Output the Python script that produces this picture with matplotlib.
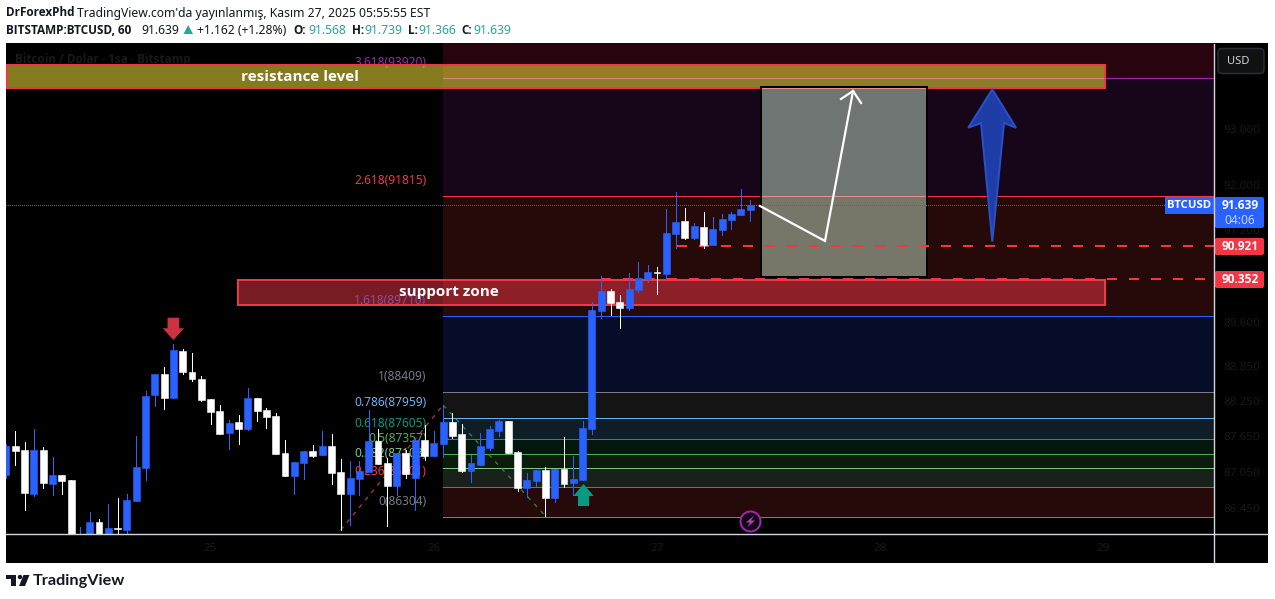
import matplotlib
matplotlib.use("Agg")
import matplotlib.pyplot as plt
from matplotlib.patches import Rectangle, Polygon, Circle, FancyBboxPatch
from matplotlib.ticker import FixedLocator, FixedFormatter, NullLocator

# candles, one per hour (below 86014 is off the chart, so estimated)
opens = [86998, 87486, 87418, 86680, 87418, 86847, 86998, 86914, 85700, 85850,
         86213, 85900, 86114, 86080, 86563, 87115, 88350, 88709, 88299, 89103,
         88743, 88623, 88282, 88078, 87705, 87891, 87773, 88299, 88095, 87993,
         87368, 86981, 87199, 87401, 87334, 87486, 87049, 86680, 86931, 87049,
         87570, 87199, 86814, 87368, 86948, 87587, 87317, 87520, 87891, 87688,
         87065, 87166, 87452, 87739, 87908, 87385, 86780, 86897, 87082, 86613,
         87098, 86864, 86914, 87773, 89794, 90140, 89949, 89846, 90158, 90349,
         90472, 90436, 91137, 91366, 91067, 91260, 90944, 91208, 91383, 91471,
         91568]
highs = [87520, 87739, 87553, 87773, 87469, 87300, 86998, 86914, 86130, 86379,
         86263, 86513, 86613, 86680, 87655, 88419, 88709, 88829, 89224, 89138,
         89069, 88675, 88282, 88180, 87925, 88010, 88470, 88299, 88129, 88044,
         87587, 87216, 87401, 87503, 87739, 87688, 87267, 87233, 87233, 88095,
         87773, 87283, 87368, 87418, 87600, 87841, 87739, 88180, 88044, 87858,
         87334, 87705, 87824, 87925, 87908, 87401, 87031, 87082, 87132, 87098,
         87638, 87317, 87908, 89949, 90402, 90175, 90071, 90454, 90646, 90594,
         90559, 91577, 91878, 91595, 91330, 91524, 91436, 91489, 91524, 91931,
         91739]
lows = [86950, 87166, 86413, 86646, 86780, 86663, 86680, 85800, 85650, 85800,
        85800, 85850, 85900, 85980, 86563, 86914, 88163, 88112, 88299, 88709,
        88589, 88248, 87858, 87688, 87435, 87520, 87756, 87908, 87790, 87351,
        86981, 86680, 86931, 87300, 87334, 86847, 86080, 86163, 86663, 87049,
        87183, 86147, 86663, 86948, 86413, 87250, 87317, 87300, 87621, 87049,
        86880, 87166, 87418, 87655, 87368, 86730, 86629, 86814, 86313, 86546,
        86797, 86663, 86914, 87688, 89672, 89724, 89500, 89811, 90123, 90297,
        90088, 90349, 90891, 91049, 91049, 90891, 90944, 91119, 91225, 91471,
        91366]
closes = [87486, 87401, 86696, 87418, 86864, 86998, 86897, 85800, 85900, 86213,
          85850, 86114, 86097, 86579, 87132, 88333, 88709, 88299, 89121, 88743,
          88623, 88265, 88061, 87688, 87875, 87773, 88299, 88078, 87976, 87351,
          86981, 87216, 87401, 87317, 87486, 87031, 86680, 86948, 87065, 87570,
          87183, 86814, 87368, 87015, 87587, 87317, 87536, 87891, 87655, 87065,
          87199, 87486, 87773, 87908, 87368, 86780, 86914, 87082, 86613, 87098,
          86847, 86931, 87790, 89811, 90140, 89932, 89846, 90175, 90367, 90472,
          90454, 91155, 91348, 91067, 91278, 90944, 91225, 91400, 91489, 91577,
          91639]

# fibonacci
fib_start = 47
fib_levels = ["3.618", "2.618", "1.618", "1", "0.786", "0.618", "0.5", "0.382", "0.236", "0"]
fib_prices = [93920, 91815, 89710, 88409, 87959, 87605, 87357, 87108, 86801, 86304]
fib_colors = ["#9C27B0", "#F23645", "#2962FF", "#787B86", "#64B5F6",
              "#089981", "#4CAF50", "#81C784", "#F23645", "#787B86"]
fib_fills = ["#170519", "#260909", "#060D28", "#141414", "#0F1D26",
             "#03170F", "#0D1B0D", "#18211A", "#260909"]
fib_top_fill = "#28040F"

# axis
price_ticks = [93000, 92000, 91200, 89600, 88850, 88250, 87650, 87050, 86450]
price_labels = ["93.000", "92.000", "91.200", "89.600", "88.850", "88.250", "87.650", "87.050", "86.450"]
day_ticks = [22, 46, 70, 94, 118]
day_labels = ["25", "26", "27", "28", "29"]
y_bottom, y_top = 86014, 94556
x_right = 129.89

last_price = 91639
stop_a, stop_b = 90921, 90352

BLUE = "#2962FF"
RED = "#F23645"
DARK = "#191919"
PX = 0.72  # one pixel in points at dpi 100
BOLD = "Open Sans"

plt.rcParams["font.family"] = ["Noto Sans", "DejaVu Sans"]

fig = plt.figure(figsize=(12.75, 5.99), dpi=100, facecolor="white")
fig.add_artist(Rectangle((6 / 1275, 36 / 599), 1262 / 1275, 520 / 599, transform=fig.transFigure,
                         facecolor="black", edgecolor="none", zorder=-1))

ax = fig.add_axes([6 / 1275, 65 / 599, 1208 / 1275, 491 / 599])
ax.set_facecolor("black")
ax.set_yscale("log")
ax.set_xlim(0, x_right)
ax.set_ylim(y_bottom, y_top)
for s in ax.spines.values():
    s.set_visible(False)
ax.yaxis.tick_right()
ax.yaxis.set_major_locator(FixedLocator(price_ticks))
ax.yaxis.set_major_formatter(FixedFormatter(price_labels))
ax.yaxis.set_minor_locator(NullLocator())
ax.set_xticks(day_ticks)
ax.set_xticklabels(day_labels)
ax.tick_params(axis="both", length=0, labelcolor=DARK, labelsize=8.4)
ax.tick_params(axis="y", pad=6.5)
ax.tick_params(axis="x", pad=6.5)

# bands and levels of the fib
edges = [y_top] + fib_prices
for i, col in enumerate([fib_top_fill] + fib_fills):
    ax.fill_between([fib_start, x_right], edges[i + 1], edges[i], color=col, linewidth=0, zorder=0)
for lev, p, col in zip(fib_levels, fib_prices, fib_colors):
    ax.plot([fib_start, x_right], [p, p], color=col, lw=PX, zorder=1)
    ax.annotate(f"{lev}({p})", (fib_start, p), xytext=(-12, 11), textcoords="offset points",
                color=col, fontsize=8.6, ha="right", va="center", zorder=2)

# the two diagonals of the fib
ax.plot([36, 47], [lows[36], highs[47]], color="#C9323F", lw=PX * 1.2, ls=(0, (3.5, 4.5)), zorder=2)
ax.plot([47, 58], [highs[47], lows[58]], color="#2E8B46", lw=PX * 1.2, ls=(0, (3.5, 4.5)), zorder=2)

ax.text(0.0075, 0.967, "Bitcoin / Dolar · 1sa · Bitstamp", transform=ax.transAxes, color=DARK,
        fontsize=8.5, family=BOLD, fontweight="bold", va="center", zorder=2)

# zones
ax.add_patch(Rectangle((0.1, 93739), 118.1, 94156 - 93739, facecolor=(1, 0.92, 0.23, 0.52),
                       edgecolor=RED, lw=PX * 2, zorder=3))
ax.add_patch(Rectangle((24.95, 89897), 93.25, 90332 - 89897, facecolor=(0.95, 0.21, 0.27, 0.5),
                       edgecolor=RED, lw=PX * 2, zorder=3))
ax.text(31.6, 93947, "resistance level", color="white", fontsize=11, family=BOLD, fontweight="bold",
        ha="center", va="center", zorder=7)
ax.text(47.6, 90115, "support zone", color="white", fontsize=11, family=BOLD, fontweight="bold",
        ha="center", va="center", zorder=7)

# projection box
ax.add_patch(Rectangle((81.18, 90384), 99.03 - 81.18, 93758 - 90384, facecolor=(0.86, 1, 0.88, 0.45),
                       edgecolor="black", lw=PX * 2, zorder=5))

# stop lines and last price
ax.plot([72.1, x_right], [stop_a, stop_a], color=RED, lw=PX * 2, ls=(0, (5, 6)), zorder=5.1)
ax.plot([64, x_right], [stop_b, stop_b], color=RED, lw=PX * 2, ls=(0, (5, 6)), zorder=5.1)
ax.plot([0, x_right], [last_price, last_price], color=BLUE, lw=PX, ls=(0, (1, 2)), zorder=5.1,
        antialiased=False)

# candles
for i, (o, h, l, c) in enumerate(zip(opens, highs, lows, closes)):
    col = BLUE if c >= o else "white"
    ax.vlines(i, l, h, color=col, lw=PX, zorder=5.2, antialiased=False)
    ax.bar(i, abs(c - o), bottom=min(o, c), width=0.75, color=col, linewidth=0.4, edgecolor=col, zorder=5.2)

# arrows
ax.plot([81.08, 88.06, 91.08], [91630, 91014, 93685], color="white", lw=PX * 2.2, zorder=6,
        solid_joinstyle="miter")
ax.plot([89.78, 91.08, 91.94], [93541, 93685, 93469], color="white", lw=PX * 2.2, zorder=6,
        solid_joinstyle="miter")
ax.add_patch(Polygon([(106.05, 93716), (103.47, 93024), (104.84, 93108), (106.05, 91001),
                      (107.31, 93108), (108.6, 93024)], closed=True, facecolor="#1F3DA6",
                     edgecolor="#2850C8", lw=PX * 2, zorder=6))
ax.add_patch(Polygon([(17.37, 89677), (18.63, 89677), (18.63, 89495), (19.15, 89495), (18, 89293),
                      (16.85, 89495), (17.37, 89495)], closed=True, facecolor="#CC3340",
                     edgecolor="none", zorder=6))
ax.add_patch(Polygon([(61.5, 86479), (62.7, 86479), (62.7, 86646), (63.2, 86646), (62.1, 86847),
                      (61, 86646), (61.5, 86646)], closed=True, facecolor="#089981",
                     edgecolor="none", zorder=6))

# everything around the chart, in picture pixels
top = fig.add_axes([0, 0, 1, 1], facecolor="none")
top.set_xlim(0, 1275)
top.set_ylim(599, 0)
top.axis("off")

top.plot([6, 1268], [534, 534], color="#D1D4DC", lw=PX * 1.4)
top.plot([1214, 1214], [44, 563], color="#D1D4DC", lw=PX * 1.4)

# lightning badge
top.add_patch(Circle((750.5, 521.5), 10, facecolor="#12050F", edgecolor="#9C27B0", lw=PX * 2))
top.add_patch(Polygon([(754, 515.5), (746, 522.5), (750, 522.5), (747, 527.5), (755, 520.5), (751, 520.5)],
                      closed=True, facecolor="#AB47BC", edgecolor="none"))

# right side tags
top.add_patch(Rectangle((1165, 197), 49, 17, facecolor=BLUE, edgecolor="none"))
top.text(1189.5, 205.5, "BTCUSD", color="white", fontsize=8.2, family=BOLD, fontweight="bold", ha="center", va="center")
top.add_patch(FancyBboxPatch((1215, 197), 49, 31, boxstyle="round,pad=0,rounding_size=2", facecolor=BLUE, edgecolor="none"))
top.text(1240, 205.5, "91.639", color="white", fontsize=8.6, family=BOLD, fontweight="bold", ha="center", va="center")
top.text(1240, 220, "04:06", color="#C4D4FF", fontsize=8.6, ha="center", va="center")
for y, s in [(246.5, "90.921"), (279.5, "90.352")]:
    top.add_patch(FancyBboxPatch((1215, y - 8.5), 49, 17, boxstyle="round,pad=0,rounding_size=2", facecolor=RED, edgecolor="none"))
    top.text(1240, y, s, color="white", fontsize=8.6, family=BOLD, fontweight="bold", ha="center", va="center")

top.add_patch(FancyBboxPatch((1218, 48.5), 46, 25, boxstyle="round,pad=0,rounding_size=4", facecolor="#111111",
                             edgecolor="#2A2E39", lw=PX * 1.5))
top.text(1238, 61.5, "USD", color="#D1D4DC", fontsize=8, ha="center", va="center")

# header
head = "#131722"
teal = "#26A69A"
header = [(6, 12, "DrForexPhd", "bold", head), (77, 12, "TradingView.com'da yayınlanmış, Kasım 27, 2025 05:55:55 EST", "normal", head),
          (6, 29, "BITSTAMP:BTCUSD, 60", "bold", head), (141, 29, "91.639", "normal", head),
          (197, 29, "+1.162 (+1.28%)", "normal", head), (293, 29, "O:", "bold", head), (308, 29, "91.568", "normal", teal),
          (352, 29, "H:", "bold", head), (364, 29, "91.739", "normal", teal), (408, 29, "L:", "bold", head),
          (418, 29, "91.366", "normal", teal), (461, 29, "C:", "bold", head), (473, 29, "91.639", "normal", teal)]
for x, y, s, w, col in header:
    if w == "bold":
        top.text(x, y + 1, s, color=col, fontsize=8.5, family=BOLD, fontweight=w, va="center")
    else:
        top.text(x, y + 1, s, color=col, fontsize=8.75, va="center")
top.add_patch(Polygon([(183.5, 34), (193, 34), (188.2, 25)], closed=True, facecolor=teal, edgecolor="none"))

# logo
top.add_patch(Polygon([(6, 575), (16, 575), (16, 586), (11, 586), (11, 578.5), (6, 578.5)], closed=True, facecolor=head, edgecolor="none"))
top.add_patch(Circle((20, 577), 2.2, facecolor=head, edgecolor="none"))
top.add_patch(Polygon([(23.5, 575), (29.5, 575), (25, 586), (19, 586)], closed=True, facecolor=head, edgecolor="none"))
top.text(33, 580.5, "TradingView", color=head, fontsize=11.7, family="Lato", fontweight="bold", va="center")

fig.savefig("out.png", dpi=100)
